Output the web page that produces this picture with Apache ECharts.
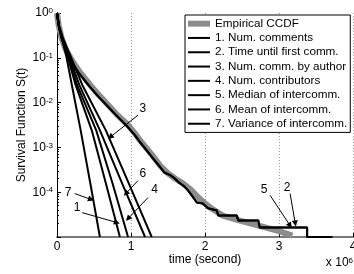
<!DOCTYPE html>
<html>
<head>
<meta charset="utf-8">
<script src="https://cdn.jsdelivr.net/npm/echarts@6/dist/echarts.min.js"></script>
<style>
  html, body { margin: 0; padding: 0; background: #fff; }
  #chart { width: 354px; height: 274px; }
</style>
</head>
<body>
<div id="chart"></div>
<script>
const FONT = "'Liberation Sans', Helvetica, Arial, sans-serif";

// [time (x 10^6 s), S(t)]
const empirical = [
  [0, 1], [0.02, 0.562], [0.06, 0.282], [0.12, 0.151], [0.2, 0.0891], [0.3, 0.0501],
  [0.42, 0.0282], [0.55, 0.0158], [0.65, 0.0105], [0.8, 0.00562], [0.96, 0.00316],
  [1.05, 0.00209], [1.12, 0.00145], [1.2, 0.001], [1.3, 0.000631], [1.39, 0.000398],
  [1.5, 0.000263], [1.6, 0.0002], [1.7, 0.000158], [1.8, 0.000117], [1.9, 7.9e-5],
  [2.0, 5.6e-5], [2.1, 4.2e-5], [2.24, 3.0e-5], [2.4, 2.5e-5], [2.57, 2.1e-5],
  [2.8, 1.66e-5], [3.0, 1.35e-5], [3.18, 1.07e-5],
];
const line1 = [[0, 1], [0.03, 0.468], [0.08, 0.24], [0.14, 0.112], [0.25, 0.0251], [0.47, 0.0024], [0.66, 0.000158], [0.85, 1e-5]];
const line2 = [
  [0, 1], [0.02, 0.562], [0.06, 0.282], [0.12, 0.141], [0.2, 0.0794], [0.3, 0.0447],
  [0.42, 0.0251], [0.55, 0.0141], [0.65, 0.00955], [0.8, 0.00525], [0.96, 0.00282],
  [1.05, 0.00191], [1.12, 0.00132], [1.2, 0.000912], [1.3, 0.000562], [1.39, 0.000372],
  [1.45, 0.00028], [1.53, 0.00024], [1.58, 0.00021], [1.66, 0.000158], [1.72, 0.000135],
  [1.77, 0.00011], [1.82, 8.5e-5], [1.89, 5.9e-5], [1.97, 5.6e-5], [2.04, 4.4e-5],
  [2.16, 3.9e-5], [2.18, 3.0e-5], [2.43, 3.0e-5], [2.45, 2.35e-5], [2.72, 2.35e-5],
  [2.74, 1.62e-5], [3.38, 1.62e-5], [3.38, 1e-5], [3.72, 1e-5],
];
const line3 = [[0, 1], [0.03, 0.501], [0.08, 0.275], [0.18, 0.112], [0.34, 0.0251], [0.66, 0.0024], [0.97, 0.000158], [1.28, 1e-5]];
const line4 = [[0, 1], [0.03, 0.468], [0.08, 0.251], [0.15, 0.112], [0.27, 0.0251], [0.53, 0.0024], [0.75, 0.000158], [0.96, 1e-5]];
const line5 = [
  [0, 1], [0.02, 0.55], [0.06, 0.282], [0.12, 0.141], [0.2, 0.0794], [0.3, 0.0447],
  [0.42, 0.0251], [0.55, 0.0141], [0.65, 0.0095], [0.8, 0.0052], [0.96, 0.0028],
  [1.05, 0.0019], [1.12, 0.00131], [1.2, 0.0009], [1.3, 0.00056], [1.39, 0.00037],
  [1.45, 0.00027], [1.53, 0.00024], [1.58, 0.00021], [1.66, 0.000158], [1.72, 0.000135],
  [1.77, 0.00011], [1.82, 8.5e-5], [1.89, 5.9e-5], [1.97, 5.6e-5], [2.04, 4.4e-5],
  [2.16, 3.9e-5], [2.18, 3.0e-5], [2.43, 3.0e-5], [2.45, 2.35e-5], [2.72, 2.35e-5],
  [2.74, 1.62e-5], [3.38, 1.62e-5], [3.38, 1e-5], [3.72, 1e-5],
];
const line6 = [[0, 1], [0.03, 0.479], [0.08, 0.263], [0.16, 0.112], [0.3, 0.0251], [0.58, 0.0024], [0.88, 0.000158], [1.19, 1e-5]];
const line7 = [[0, 1], [0.03, 0.447], [0.08, 0.224], [0.13, 0.1], [0.2, 0.0251], [0.32, 0.0024], [0.45, 0.000158], [0.58, 1e-5]];

const seriesNames = [
  "Empirical CCDF",
  "1. Num. comments",
  "2. Time until first comm.",
  "3. Num. comm. by author",
  "4. Num. contributors",
  "5. Median of intercomm.",
  "6. Mean of intercomm.",
  "7. Variance of intercomm.",
];
const xTicks = [0, 1, 2, 3, 4];
const yTickExponents = [0, -1, -2, -3, -4];

// arrow annotations: label, text position, arrow start, arrow tip
const noteLabels = ["3", "6", "4", "1", "7", "5", "2"];
const noteText = [[1.16, 0.0074], [1.16, 0.000263], [1.32, 0.000115], [0.27, 4.4e-5], [0.15, 1e-4], [2.8, 0.000115], [3.11, 0.000129]];
const noteFrom = [[1.095, 0.00525], [1.095, 0.000182], [1.23, 7.6e-5], [0.34, 3.5e-5], [0.24, 9.3e-5], [2.88, 8.5e-5], [3.15, 9.3e-5]];
const noteTo = [[0.72, 0.0017], [0.93, 9.3e-5], [0.96, 2.57e-5], [0.81, 2.1e-5], [0.46, 6.9e-5], [3.15, 1.8e-5], [3.22, 2.0e-5]];

const minorTicks = [];
for (let e = -5; e < 0; e++) {
  for (let k = 2; k <= 9; k++) minorTicks.push(k * Math.pow(10, e));
}

const lineIcon = "path://M0,0H22V2H0Z";
const blackLines = [line1, line2, line3, line4, line5, line6, line7];

const chart = echarts.init(document.getElementById("chart"), null, { renderer: "canvas" });

const series = [
  {
    name: seriesNames[0],
    type: "line",
    data: empirical,
    symbol: "none",
    color: "#8c8c8c",
    lineStyle: { color: "#8c8c8c", width: 6 },
    z: 2,
  },
  ...blackLines.map((data, i) => ({
    name: seriesNames[i + 1],
    type: "line",
    data,
    symbol: "none",
    clip: false,
    color: "#000",
    lineStyle: { color: "#000", width: 2 },
    z: 3,
  })),
  {
    name: "notes",
    type: "line",
    data: [],
    z: 4,
    markLine: {
      silent: true,
      animation: false,
      symbol: ["none", "triangle"],
      symbolSize: 6,
      lineStyle: { color: "#000", width: 1, type: "solid" },
      label: { show: false },
      data: noteFrom.map((p, i) => [{ coord: p }, { coord: noteTo[i] }]),
    },
    markPoint: {
      silent: true,
      animation: false,
      symbol: "rect",
      symbolSize: 1,
      itemStyle: { color: "rgba(0,0,0,0)" },
      label: {
        show: true,
        position: "inside",
        color: "#000",
        fontSize: 12,
        fontFamily: FONT,
        formatter: (p) => p.name,
      },
      data: noteText.map((p, i) => ({ name: noteLabels[i], coord: p })),
    },
  },
];

chart.setOption({
  animation: false,
  textStyle: { fontFamily: FONT },
  grid: { left: 57, right: 1, top: 13, bottom: 37, outerBoundsMode: "none", containLabel: false },
  legend: {
    orient: "vertical",
    left: 185,
    top: 15,
    backgroundColor: "#fff",
    borderColor: "#000",
    borderWidth: 1,
    borderRadius: 0,
    padding: [2, 3, 2, 3],
    itemWidth: 22,
    itemHeight: 6,
    itemGap: 1,
    selectedMode: false,
    textStyle: { color: "#000", fontSize: 11.7, fontFamily: FONT, lineHeight: 13.3 },
    data: seriesNames.map((name, i) => ({ name, icon: i === 0 ? "rect" : lineIcon })),
  },
  xAxis: {
    type: "value",
    min: 0,
    max: 4,
    interval: 1,
    name: "time (second)",
    nameLocation: "middle",
    nameGap: 17,
    nameMoveOverlap: false,
    nameTextStyle: { color: "#000", fontSize: 12, fontFamily: FONT },
    axisLine: { lineStyle: { color: "#7a7a7a", width: 2 } },
    axisTick: { inside: true, length: 4, lineStyle: { color: "#000" } },
    axisLabel: {
      color: "#000",
      fontSize: 12,
      margin: 4,
      hideOverlap: false,
      customValues: xTicks,
      formatter: (v) => String(v),
    },
    splitLine: { show: true, lineStyle: { color: "#9a9a9a", type: [1, 2], width: 1 } },
  },
  yAxis: [
    {
      type: "log",
      logBase: 10,
      min: 1e-5,
      max: 1,
      name: "Survival Function S(t)",
      nameLocation: "middle",
      nameGap: 29,
      nameMoveOverlap: false,
      nameTextStyle: { color: "#000", fontSize: 12, fontFamily: FONT },
      axisLine: { lineStyle: { color: "#000", width: 1 } },
      axisTick: { inside: true, length: 4, lineStyle: { color: "#000" } },
      axisLabel: {
        margin: 4,
        color: "#000",
        formatter: (v) => {
          const e = yTickExponents.find((x) => Math.abs(Math.pow(10, x) - v) < v * 1e-6);
          return e === undefined ? "" : `{b|10}{e|${e}}`;
        },
        rich: {
          b: { fontSize: 12, fontFamily: FONT, color: "#000", verticalAlign: "bottom" },
          e: { fontSize: 8, fontFamily: FONT, color: "#000", verticalAlign: "top" },
        },
      },
      splitLine: { show: false },
    },
    {
      type: "log",
      logBase: 10,
      min: 1e-5,
      max: 1,
      position: "left",
      axisLine: { show: false },
      axisLabel: { show: false },
      splitLine: { show: false },
      axisTick: { inside: true, length: 2, customValues: minorTicks, lineStyle: { color: "#000" } },
    },
  ],
  graphic: [
    {
      type: "text",
      right: 1,
      bottom: 5,
      style: {
        text: "{b|x 10}{e|6}",
        fill: "#000",
        rich: {
          b: { fontSize: 12, fontFamily: FONT, fill: "#000", verticalAlign: "bottom" },
          e: { fontSize: 8, fontFamily: FONT, fill: "#000", verticalAlign: "top" },
        },
      },
    },
  ],
  series,
});
</script>
</body>
</html>
